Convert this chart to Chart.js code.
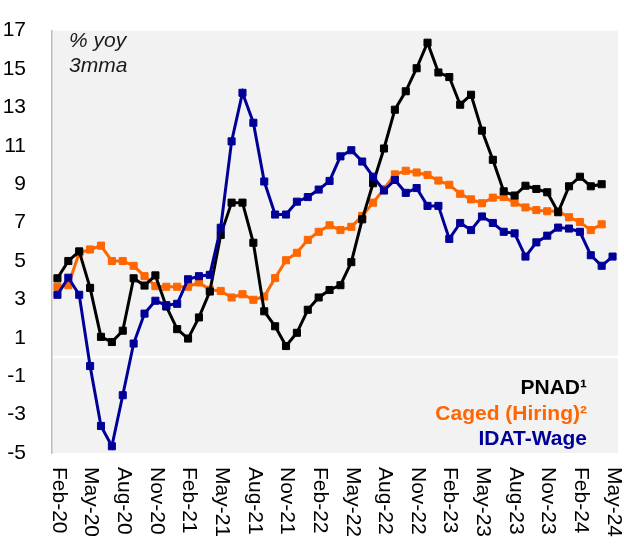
<!DOCTYPE html>
<html>
<head>
<meta charset="utf-8">
<script src="https://cdn.jsdelivr.net/npm/chart.js@4/dist/chart.umd.min.js"></script>
<style>
  html, body { margin: 0; padding: 0; background: #fff; }
  #wrap { width: 624px; height: 545px; }
</style>
</head>
<body>
<div id="wrap"><canvas id="chart" width="624" height="545"></canvas></div>
<script>
// monthly categories, Feb-20 .. May-24
const months = [
  'Feb-20','Mar-20','Apr-20','May-20','Jun-20','Jul-20','Aug-20','Sep-20','Oct-20','Nov-20','Dec-20',
  'Jan-21','Feb-21','Mar-21','Apr-21','May-21','Jun-21','Jul-21','Aug-21','Sep-21','Oct-21','Nov-21','Dec-21',
  'Jan-22','Feb-22','Mar-22','Apr-22','May-22','Jun-22','Jul-22','Aug-22','Sep-22','Oct-22','Nov-22','Dec-22',
  'Jan-23','Feb-23','Mar-23','Apr-23','May-23','Jun-23','Jul-23','Aug-23','Sep-23','Oct-23','Nov-23','Dec-23',
  'Jan-24','Feb-24','Mar-24','Apr-24','May-24'
];
const xTickLabels = ['Feb-20','May-20','Aug-20','Nov-20','Feb-21','May-21','Aug-21','Nov-21','Feb-22',
  'May-22','Aug-22','Nov-22','Feb-23','May-23','Aug-23','Nov-23','Feb-24','May-24'];

const pnad = [4.1, 5.0, 5.5, 3.6, 1.05, 0.78, 1.37, 4.1, 3.72, 4.25,
  2.63, 1.45, 0.96, 2.06, 3.41, 6.36, 8.04, 8.04, 5.95, 2.38,
  1.6, 0.57, 1.26, 2.46, 3.1, 3.49, 3.74, 4.94, 7.17, 9.05,
  10.86, 12.88, 13.84, 15.04, 16.37, 14.82, 14.58, 13.14, 13.66, 11.79,
  10.27, 8.63, 8.41, 8.92, 8.75, 8.58, 7.54, 8.89, 9.39, 8.89,
  9.0, null];
const caged = [3.66, 3.74, 5.43, 5.6, 5.8, 5.0, 5.0, 4.75, 4.21, 3.69,
  3.66, 3.66, 3.66, 3.88, 3.5, 3.44, 3.1, 3.27, 2.98, 3.15,
  4.11, 5.04, 5.43, 6.1, 6.52, 6.86, 6.61, 6.78, 7.35, 8.04,
  8.75, 9.51, 9.7, 9.61, 9.48, 9.19, 8.97, 8.5, 8.21, 8.01,
  8.3, 8.33, 8.04, 7.79, 7.65, 7.59, 7.6, 7.28, 7.03, 6.61,
  6.91, null];
const idat = [3.24, 4.13, 3.24, -0.47, -3.59, -4.65, -1.99, 0.7, 2.26, 2.93,
  2.7, 2.77, 4.05, 4.21, 4.28, 6.73, 11.23, 13.76, 12.2, 9.14,
  7.42, 7.42, 8.09, 8.33, 8.72, 9.17, 10.45, 10.77, 10.18, 9.39,
  8.67, 9.22, 8.55, 8.8, 7.87, 7.87, 6.15, 6.98, 6.61, 7.32,
  6.98, 6.52, 6.44, 5.23, 5.97, 6.32, 6.74, 6.69, 6.52, 5.3,
  4.75, 5.23];

const seriesNames = ['PNAD\u00b9', 'Caged (Hiring)\u00b2', 'IDAT-Wage'];
const seriesColors = ['#000000', '#ff6600', '#000099'];
const noteLines = ['% yoy', '3mma'];

const FONT = '"Liberation Sans", Arial, sans-serif';

function line(label, data, color) {
  return {
    label: label,
    data: data,
    borderColor: color,
    backgroundColor: color,
    borderWidth: 3,
    pointStyle: 'rect',
    pointRadius: 5,
    pointBorderWidth: 1,
    pointHoverRadius: 5,
    tension: 0,
    spanGaps: false
  };
}

const extras = {
  id: 'extras',
  beforeDraw(chart) {
    const { ctx, chartArea: a } = chart;
    ctx.save();
    ctx.fillStyle = '#f2f2f2';
    ctx.fillRect(a.left, a.top, a.right - a.left, a.bottom - a.top);
    ctx.restore();
  },
  beforeDatasetsDraw(chart) {
    // white zero line (0 is not one of the odd ticks)
    const { ctx, chartArea: a } = chart;
    const y0 = Math.round(chart.scales.y.getPixelForValue(0));
    ctx.save();
    ctx.strokeStyle = '#ffffff';
    ctx.lineWidth = 2.5;
    ctx.beginPath();
    ctx.moveTo(a.left + 1, y0);
    ctx.lineTo(a.right, y0);
    ctx.stroke();
    ctx.restore();
  },
  afterDraw(chart) {
    const { ctx, chartArea: a } = chart;
    const xs = chart.scales.x;
    ctx.save();
    // rotated month labels, reading top to bottom
    ctx.fillStyle = '#000';
    ctx.font = '21px ' + FONT;
    ctx.textAlign = 'left';
    ctx.textBaseline = 'middle';
    xTickLabels.forEach(lab => {
      const x = xs.getPixelForValue(months.indexOf(lab));
      ctx.save();
      ctx.translate(x + 1, 467);
      ctx.rotate(Math.PI / 2);
      ctx.fillText(lab, 0, 0);
      ctx.restore();
    });
    // note
    ctx.font = 'italic 21px ' + FONT;
    ctx.textBaseline = 'alphabetic';
    ctx.fillStyle = '#1a1a1a';
    noteLines.forEach((t, i) => ctx.fillText(t, a.left + 17, 47 + i * 25));
    // legend
    ctx.font = 'bold 21px ' + FONT;
    ctx.textAlign = 'right';
    seriesNames.forEach((t, i) => {
      ctx.fillStyle = seriesColors[i];
      ctx.fillText(t, 587, 394 + i * 25.5);
    });
    ctx.restore();
  }
};

new Chart(document.getElementById('chart').getContext('2d'), {
  type: 'line',
  data: {
    labels: months,
    // first dataset is drawn on top
    datasets: [
      line(seriesNames[2], idat, seriesColors[2]),
      line(seriesNames[0], pnad, seriesColors[0]),
      line(seriesNames[1], caged, seriesColors[1])
    ]
  },
  options: {
    responsive: false,
    animation: false,
    layout: { padding: { top: 18, right: 6, left: 0, bottom: 0 } },
    plugins: {
      legend: { display: false },
      tooltip: { enabled: false }
    },
    scales: {
      x: {
        type: 'category',
        offset: true,
        grid: { display: false },
        border: { display: false },
        ticks: { display: false },
        afterFit(scale) { scale.height = 92; }
      },
      y: {
        min: -5,
        max: 17,
        afterFit(scale) { scale.width = 52; },
        ticks: {
          stepSize: 2,
          color: '#000',
          padding: 18,
          font: { family: FONT, size: 21 }
        },
        grid: { display: false },
        border: { display: true, color: '#bdbdbd', width: 1.5 }
      }
    }
  },
  plugins: [extras]
});
</script>
</body>
</html>
